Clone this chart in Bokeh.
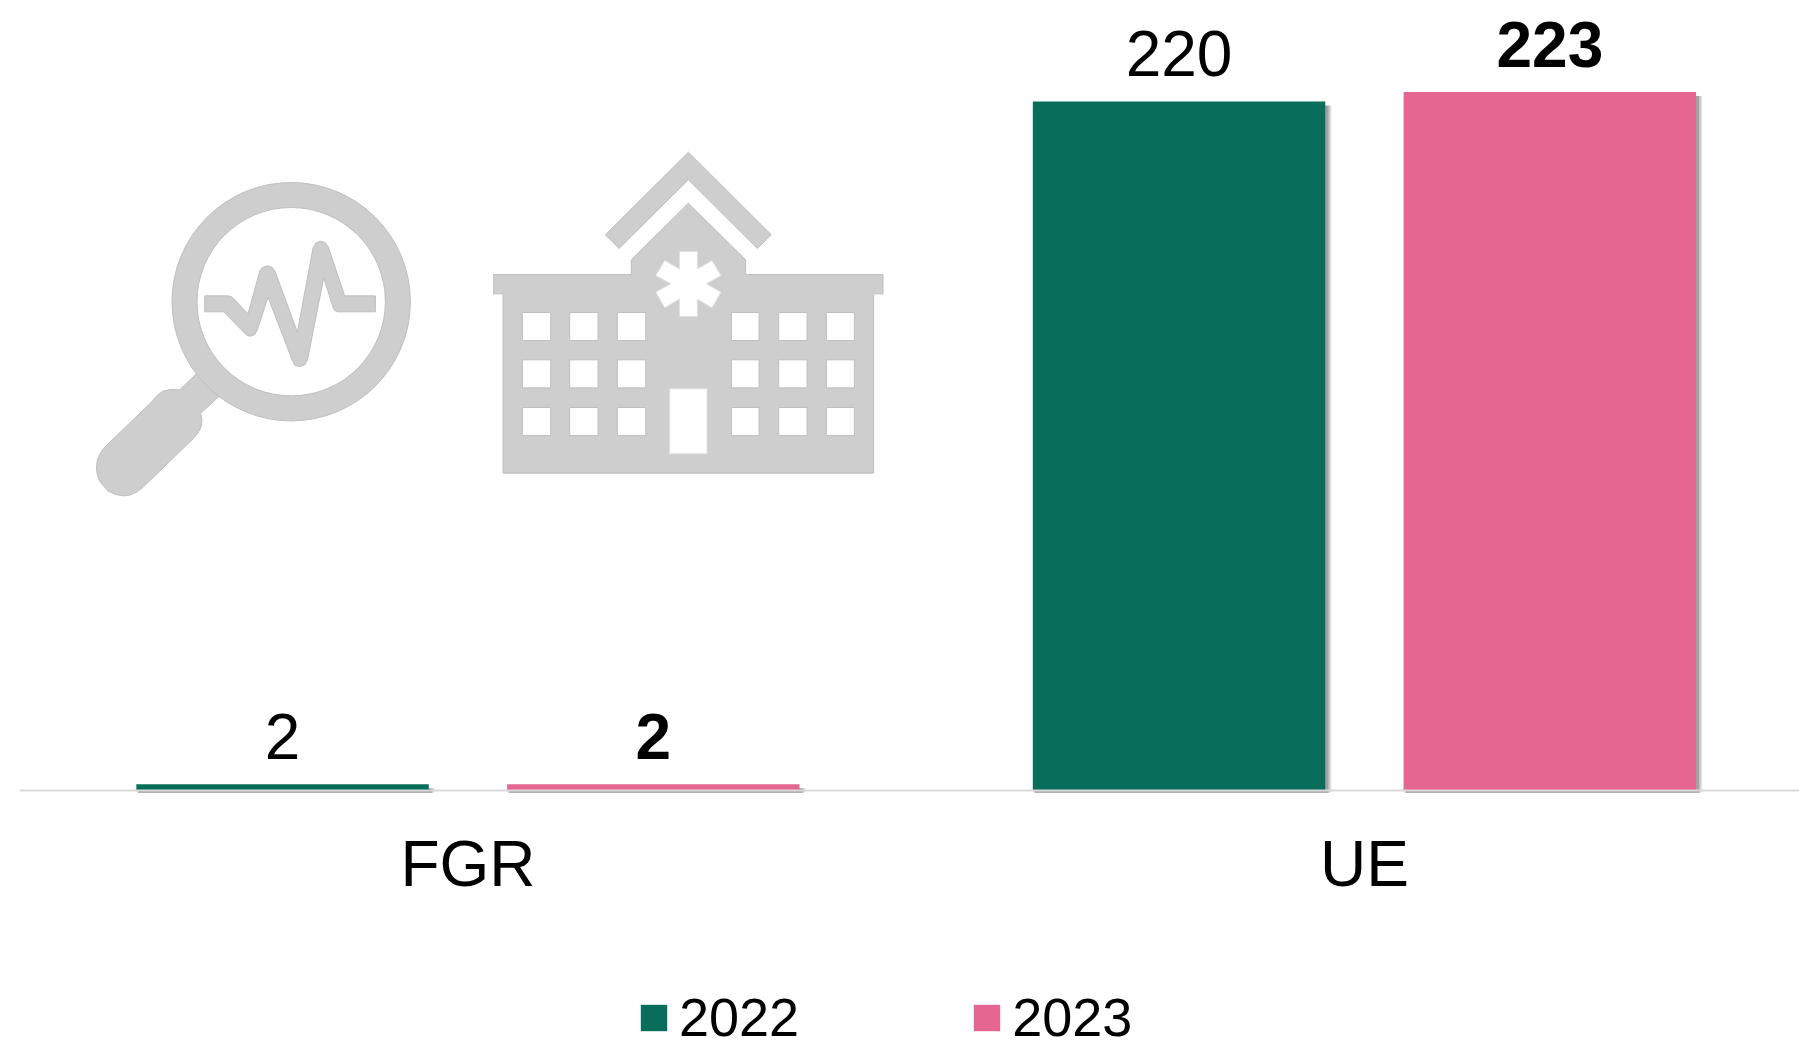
from bokeh.plotting import figure
from bokeh.models import Range1d, FixedTicker, Legend, LegendItem, ColumnDataSource
from bokeh.core.properties import value
from bokeh.embed import file_html
from bokeh.resources import INLINE

categories = ["FGR", "UE"]
series_2022 = [2, 220]
series_2023 = [2, 223]
labels = ["2022", "2023"]

GREEN = "#096D5C"
PINK = "#E56791"
FONT = "Liberation Sans"
PX = 896.5            # pixels per category
PY = 3.132            # pixels per unit
BW = 292.4 / PX
OFF = 185.4 / PX
W, H = 1799, 1046
AX_L, AX_Y = 20, 790

p = figure(width=W, height=H, output_backend="svg", toolbar_location=None,
           x_range=Range1d(-0.5 - (AX_L - 0.8) / PX, -0.5 + (W - AX_L + 0.8) / PX),
           y_range=Range1d(-(H - AX_Y) / PY, AX_Y / PY),
           min_border=0, min_border_left=0, min_border_right=0,
           min_border_top=0, min_border_bottom=0, outline_line_color=None,
           background_fill_color="white", border_fill_color="white")
p.grid.visible = False
p.yaxis.visible = False
p.extra_x_ranges["px"] = Range1d(0, W)
p.extra_y_ranges["px"] = Range1d(H, 0)

xs = list(range(len(categories)))
x22 = [x - OFF for x in xs]
x23 = [x + OFF for x in xs]

# soft bar shadows
for (dx, dy, grow, a) in [(3, 1.5, 7, 0.08), (3, 2, 5, 0.12), (3, 2.5, 3, 0.18), (2.5, 2.5, 1, 0.28)]:
    for xv, vals in ((x22, series_2022), (x23, series_2023)):
        p.vbar(x=[x + dx / PX for x in xv], top=[v - 4 / PY for v in vals], bottom=-dy / PY,
               width=BW + grow / PX, fill_color="#505050", fill_alpha=a, line_color=None)

r22 = p.vbar(x=x22, top=series_2022, bottom=0, width=BW, fill_color=GREEN, line_color=None)
r23 = p.vbar(x=x23, top=series_2023, bottom=0, width=BW, fill_color=PINK, line_color=None)

for xv, vals, style in ((x22, series_2022, "normal"), (x23, series_2023, "bold")):
    p.text(x=xv, y=vals, text=[str(v) for v in vals], y_offset=-25.5,
           text_font=value(FONT), text_font_size="64px", text_font_style=style,
           text_color="black", text_align="center", text_baseline="bottom")

ax = p.xaxis[0]
ax.fixed_location = 0
ax.bounds = (-0.5, -0.5 + (W - AX_L + 0.8) / PX)
ax.ticker = FixedTicker(ticks=xs)
ax.major_label_overrides = {i: c for i, c in enumerate(categories)}
ax.major_tick_line_color = None
ax.minor_tick_line_color = None
ax.axis_line_color = "#D9D9D9"
ax.axis_line_width = 2
ax.major_label_text_font = FONT
ax.major_label_text_font_size = "64px"
ax.major_label_text_color = "black"
ax.major_label_standoff = 31

# icons, drawn in page pixels
ICON_FILL, ICON_EDGE = "#CECECE", "#BFBFBF"
DX = -0.8
def conv(pts, ox, oy):
    return [ox + DX + a / 3 for a, _ in pts], [oy + b / 3 for _, b in pts]
def poly(pts, ox, oy, fill=ICON_FILL, edge=ICON_EDGE):
    xx, yy = conv(pts, ox, oy)
    p.patch(xx, yy, fill_color=fill, line_color=edge, line_width=1,
            x_range_name="px", y_range_name="px")

handle = [(350,700),(300,748),(272,747),(250,752),(232,765),(215,785),(75,920),(62,938),(53,958),(50,982),(53,1005),(62,1025),(85,1052),(108,1062),(130,1066),
          (150,1064),(172,1054),(190,1040),(340,895),(355,877),(364,860),(367,840),(363,818),(418,768),(470,720),(400,650)]
poly(handle, 80, 140)
p.annulus(x=[291.5 + DX], y=[301.2], inner_radius=94.2, outer_radius=119.2, fill_color=ICON_FILL,
          line_color=ICON_EDGE, line_width=1, x_range_name="px", y_range_name="px")
pulse = [(375,466),(445,466),(455,469),(462,475),(505,520),(540,392),(548,381),(563,376),(578,381),(586,392),(653,575),(700,322),(708,308),(722,302),(736,306),(746,320),
         (795,466),(887,466),(887,514),(775,514),(765,510),(760,500),(732,412),(683,660),(675,673),(660,678),(646,675),(638,660),(565,470),(532,570),
         (525,582),(513,587),(502,585),(495,578),(432,514),(375,514)]
poly(pulse, 80, 140)

roof = [(626,35),(875,283),(833,324),(626,118),(418,324),(377,283)]
body = [(42,402),(455,402),(455,358),(626,188),(798,358),(798,402),(1210,402),(1210,460),(1182,460),(1182,998),(70,998),(70,460),(42,460)]
star = [(599,333),(653,333),(653,385),(697,360),(724,405),(680,430),(724,455),(697,502),(653,476),(653,528),(599,528),
        (599,476),(555,502),(528,455),(573,430),(528,405),(555,360),(599,385)]
door = [(570,745),(682,745),(682,940),(570,940)]
poly(roof, 480, 140)
poly(body, 480, 140)
poly(star, 480, 140, "white", "#E0E0E0")
poly(door, 480, 140, "white", "#E0E0E0")
for c0, c1 in [(128,213),(270,355),(413,498),(755,838),(897,982),(1040,1124)]:
    for r0, r1 in [(516,600),(658,742),(801,885)]:
        poly([(c0,r0),(c1,r0),(c1,r1),(c0,r1)], 480, 140, "white", ICON_EDGE)

legend = Legend(items=[LegendItem(label=labels[0], renderers=[r22]), LegendItem(label=labels[1], renderers=[r23])],
                orientation="horizontal", location=(637, -2), padding=0, margin=0, spacing=171,
                glyph_width=33, glyph_height=33, label_standoff=9, label_height=33, label_width=120,
                label_text_font=FONT, label_text_font_size="54px", label_text_color="black",
                border_line_color=None, background_fill_alpha=0)
p.add_layout(legend, "center")

open("out.html", "w").write(file_html(p, INLINE))
